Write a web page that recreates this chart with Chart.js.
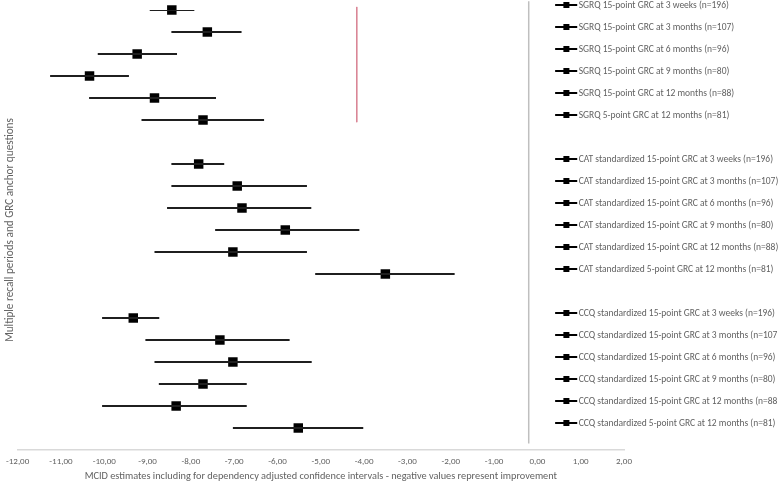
<!DOCTYPE html>
<html>
<head>
<meta charset="utf-8">
<script src="https://cdn.jsdelivr.net/npm/chart.js@4.4.1/dist/chart.umd.min.js"></script>
<style>
    html, body { margin: 0; padding: 0; background: #fff; }
    #contenedor { width: 778px; height: 483px; }
</style>
</head>
<body>
<div id="contenedor"><canvas id="graficaMCID"></canvas></div>
<script>
// filas en orden de arriba hacia abajo; '' = fila vacia entre grupos
const ETIQUETAS = [
    'SGRQ 15-point GRC at 3 weeks (n=196)',
    'SGRQ 15-point GRC at 3 months (n=107)',
    'SGRQ 15-point GRC at 6 months (n=96)',
    'SGRQ 15-point GRC at 9 months (n=80)',
    'SGRQ 15-point GRC at 12 months (n=88)',
    'SGRQ 5-point GRC at 12 months (n=81)',
    '',
    'CAT standardized 15-point GRC at 3 weeks (n=196)',
    'CAT standardized 15-point GRC at 3 months (n=107)',
    'CAT standardized 15-point GRC at 6 months (n=96)',
    'CAT standardized 15-point GRC at 9 months (n=80)',
    'CAT standardized 15-point GRC at 12 months (n=88)',
    'CAT standardized 5-point GRC at 12 months (n=81)',
    '',
    'CCQ standardized 15-point GRC at 3 weeks (n=196)',
    'CCQ standardized 15-point GRC at 3 months (n=107)',
    'CCQ standardized 15-point GRC at 6 months (n=96)',
    'CCQ standardized 15-point GRC at 9 months (n=80)',
    'CCQ standardized 15-point GRC at 12 months (n=88)',
    'CCQ standardized 5-point GRC at 12 months (n=81)'
];
const ESTIMADOS = [-8.44, -7.62, -9.24, -10.34, -8.84, -7.72, null,
                   -7.82, -6.93, -6.82, -5.82, -7.03, -3.51, null,
                   -9.33, -7.33, -7.03, -7.72, -8.34, -5.52];
const LIM_INF = [-8.95, -8.45, -10.15, -11.25, -10.35, -9.14, null,
                 -8.45, -8.45, -8.55, -7.44, -8.84, -5.13, null,
                 -10.05, -9.05, -8.84, -8.74, -10.05, -7.03];
const LIM_SUP = [-7.92, -6.83, -8.32, -9.43, -7.42, -6.31, null,
                 -7.23, -5.32, -5.22, -4.11, -5.32, -1.91, null,
                 -8.73, -5.72, -5.21, -6.71, -6.71, -4.02];
const EJE_X_MIN = -12;
const EJE_X_MAX = 2;
const LINEA_ROJA_X = [-4.17, -4.17];
const LINEA_ROJA_Y = [-0.14, 5.1];
const LINEA_GRIS_X = [-0.2, -0.2];
const LINEA_GRIS_Y = [-0.4, 19.7];

const GRIS_TEXTO = '#626262';
const FUENTE = "Carlito, Calibri, 'Liberation Sans', sans-serif";

const formatoComa = v => v.toFixed(2).replace('.', ',');

const datasets = [];

// barras de intervalo de confianza, una por fila
ETIQUETAS.forEach((et, i) => {
    if (LIM_INF[i] === null) return;
    datasets.push({
        type: 'line',
        data: [{ x: LIM_INF[i], y: i }, { x: LIM_SUP[i], y: i }],
        borderColor: '#1f1f1f',
        borderWidth: 2,
        pointRadius: 0,
        fill: false
    });
});

datasets.push({
    type: 'line',
    data: LINEA_ROJA_X.map((x, k) => ({ x, y: LINEA_ROJA_Y[k] })),
    borderColor: '#d98595',
    borderWidth: 1,
    pointRadius: 0,
    clip: false
});

datasets.push({
    type: 'line',
    data: LINEA_GRIS_X.map((x, k) => ({ x, y: LINEA_GRIS_Y[k] })),
    borderColor: '#bfbfbf',
    borderWidth: 1.5,
    pointRadius: 0,
    clip: false
});

datasets.push({
    type: 'scatter',
    data: ESTIMADOS.map((v, i) => v === null ? null : { x: v, y: i }).filter(p => p),
    pointStyle: 'rect',
    pointRadius: 6.7,
    backgroundColor: '#000',
    borderColor: '#000',
    borderWidth: 0,
    clip: false
});

// leyenda dibujada sobre el area de la grafica, alineada con cada fila
const leyendaFilas = {
    id: 'leyendaFilas',
    afterDraw(chart) {
        const { ctx, scales } = chart;
        ctx.save();
        ctx.font = '9.5px ' + FUENTE;
        ctx.textBaseline = 'middle';
        ctx.textAlign = 'left';
        ETIQUETAS.forEach((et, i) => {
            if (!et) return;
            const y = scales.y.getPixelForValue(i) - 5;
            const x0 = scales.x.getPixelForValue(0.41);
            const x1 = scales.x.getPixelForValue(0.92);
            const xm = scales.x.getPixelForValue(0.67);
            ctx.strokeStyle = '#000';
            ctx.lineWidth = 2;
            ctx.beginPath();
            ctx.moveTo(x0, y);
            ctx.lineTo(x1, y);
            ctx.stroke();
            ctx.fillStyle = '#000';
            ctx.fillRect(xm - 3, y - 3, 6, 6);
            ctx.fillStyle = GRIS_TEXTO;
            ctx.fillText(et, x1 + 1.5, y + 0.5);
        });
        ctx.restore();
    }
};

new Chart(document.getElementById('graficaMCID'), {
    type: 'scatter',
    data: { datasets },
    options: {
        responsive: true,
        maintainAspectRatio: false,
        animation: false,
        layout: { padding: { top: 10, right: 154, bottom: 0, left: 0 } },
        plugins: {
            legend: { display: false },
            tooltip: { enabled: false }
        },
        scales: {
            x: {
                type: 'linear',
                min: EJE_X_MIN,
                max: EJE_X_MAX,
                afterFit: (escala) => { escala.height = 33; },
                grid: { display: false, drawTicks: false },
                border: { display: true, color: '#d9d9d9', width: 1.5 },
                ticks: {
                    stepSize: 1,
                    padding: 6,
                    color: GRIS_TEXTO,
                    font: { family: FUENTE, size: 9 },
                    callback: v => formatoComa(v)
                },
                title: {
                    display: true,
                    text: 'MCID estimates including for dependency adjusted confidence intervals - negative values represent improvement',
                    color: GRIS_TEXTO,
                    font: { family: FUENTE, size: 10.3 },
                    padding: { top: 0, bottom: 0 }
                }
            },
            y: {
                type: 'linear',
                reverse: true,
                min: 0,
                max: 20,
                afterFit: (escala) => { escala.width = 14; },
                grid: { display: false, drawTicks: false },
                border: { display: false },
                ticks: { display: false },
                title: {
                    display: true,
                    text: 'Multiple recall periods and GRC anchor questions',
                    color: GRIS_TEXTO,
                    font: { family: FUENTE, size: 11.2 },
                    padding: { top: 0, bottom: 0 }
                }
            }
        }
    },
    plugins: [leyendaFilas]
});
</script>
</body>
</html>
